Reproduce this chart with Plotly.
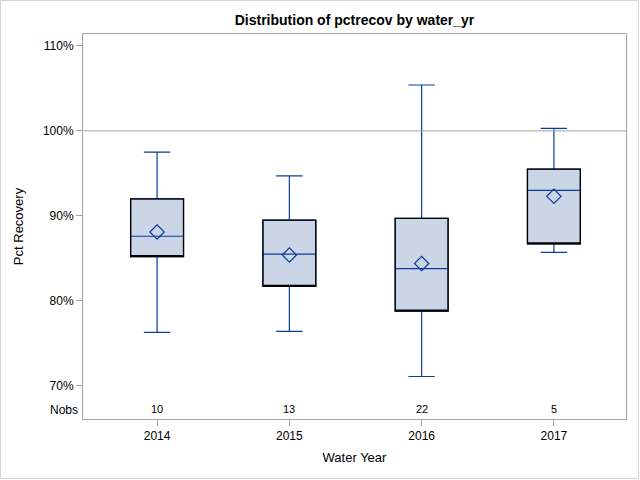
import plotly.graph_objects as go

years = ["2014", "2015", "2016", "2017"]
nobs = [10, 13, 22, 5]
lower_whisker = [76.3, 76.4, 71.1, 85.7]
q1 = [85.2, 81.7, 78.8, 86.7]
median = [87.6, 85.5, 83.8, 93.0]
q3 = [92.0, 89.5, 89.7, 95.5]
upper_whisker = [97.5, 94.7, 105.4, 100.3]
means = [88.1, 85.4, 84.4, 92.3]
y_ticks = [70, 80, 90, 100, 110]
y_tick_labels = ["70%", "80%", "90%", "100%", "110%"]

BLUE = "#0A3D9C"
FILL = "#CAD5E5"
FRAME = "#A0A4A8"
FONT = "Liberation Sans, Arial, sans-serif"

xpos = list(range(len(years)))

fig = go.Figure()

# whiskers + median (blue) with fill
fig.add_trace(go.Box(
    x=xpos, q1=q1, median=median, q3=q3,
    lowerfence=lower_whisker, upperfence=upper_whisker,
    fillcolor=FILL, line=dict(color=BLUE, width=1.2),
    width=0.4, whiskerwidth=0.5, boxpoints=False, showlegend=False,
    hoverinfo="skip",
))
# black box outline on top (median placed on q1 edge so blue median stays visible)
fig.add_trace(go.Box(
    x=xpos, q1=q1, median=q1, q3=q3,
    lowerfence=q1, upperfence=q3,
    fillcolor="rgba(0,0,0,0)", line=dict(color="black", width=1.3),
    width=0.4, whiskerwidth=0, boxpoints=False, showlegend=False,
    hoverinfo="skip",
))
# means
fig.add_trace(go.Scatter(
    x=xpos, y=means, mode="markers",
    marker=dict(symbol="diamond-open", size=11, color=BLUE, line=dict(width=1.2, color=BLUE)),
    showlegend=False, hoverinfo="skip",
))

fig.add_hline(y=100, line=dict(color="#A0A0A0", width=1))

# Nobs labels
for i, n in zip(xpos, nobs):
    fig.add_annotation(x=i, y=0, xref="x", yref="paper", text=str(n),
                       showarrow=False, yanchor="bottom", yshift=2,
                       font=dict(family=FONT, size=11, color="black"))
fig.add_annotation(x=0, y=0, xref="paper", yref="paper", text="Nobs",
                   showarrow=False, xanchor="right", yanchor="bottom", xshift=-3, yshift=0,
                   font=dict(family=FONT, size=12, color="black"))

W, H = 640, 480
ml, mr, mt, mb = 83, 14, 34, 61
pw, ph = W - ml - mr, H - mt - mb
fig.add_shape(type="rect", xref="paper", yref="paper",
              x0=-(ml - 0.5) / pw, x1=1 + (mr - 1.5) / pw,
              y0=-(mb - 1.5) / ph, y1=1 + (mt - 0.5) / ph,
              line=dict(color="#D4D4D4", width=1), layer="below")

fig.update_layout(
    width=W, height=H,
    margin=dict(l=ml, r=mr, t=mt, b=mb, pad=0, autoexpand=False),
    paper_bgcolor="white", plot_bgcolor="white",
    boxmode="overlay",
    font=dict(family=FONT, size=12, color="black"),
    title=dict(text="<b>Distribution of pctrecov by water_yr</b>",
               x=0.5, xref="paper", xanchor="center", y=1 - 20 / H, yanchor="middle",
               font=dict(family=FONT, size=14, color="black")),
    xaxis=dict(range=[-0.56, 3.545], showgrid=False, zeroline=False, automargin=False,
               tickvals=xpos, ticktext=years,
               showline=True, linecolor=FRAME, linewidth=1, mirror=True,
               ticks="outside", ticklen=6, tickcolor=FRAME,
               tickfont=dict(family=FONT, size=12),
               title=dict(text="Water Year", font=dict(family=FONT, size=13), standoff=10)),
    yaxis=dict(range=[66.1, 111.4], tickvals=y_ticks, ticktext=y_tick_labels,
               showgrid=False, zeroline=False, automargin=False,
               showline=True, linecolor=FRAME, linewidth=1, mirror=True,
               ticks="outside", ticklen=6, tickcolor=FRAME,
               tickfont=dict(family=FONT, size=12),
               title=dict(text="Pct Recovery", font=dict(family=FONT, size=13), standoff=16)),
)

fig.write_html("out.html", config={"displayModeBar": False},
               post_script="document.body.style.margin='0';document.body.style.overflow='hidden';")
